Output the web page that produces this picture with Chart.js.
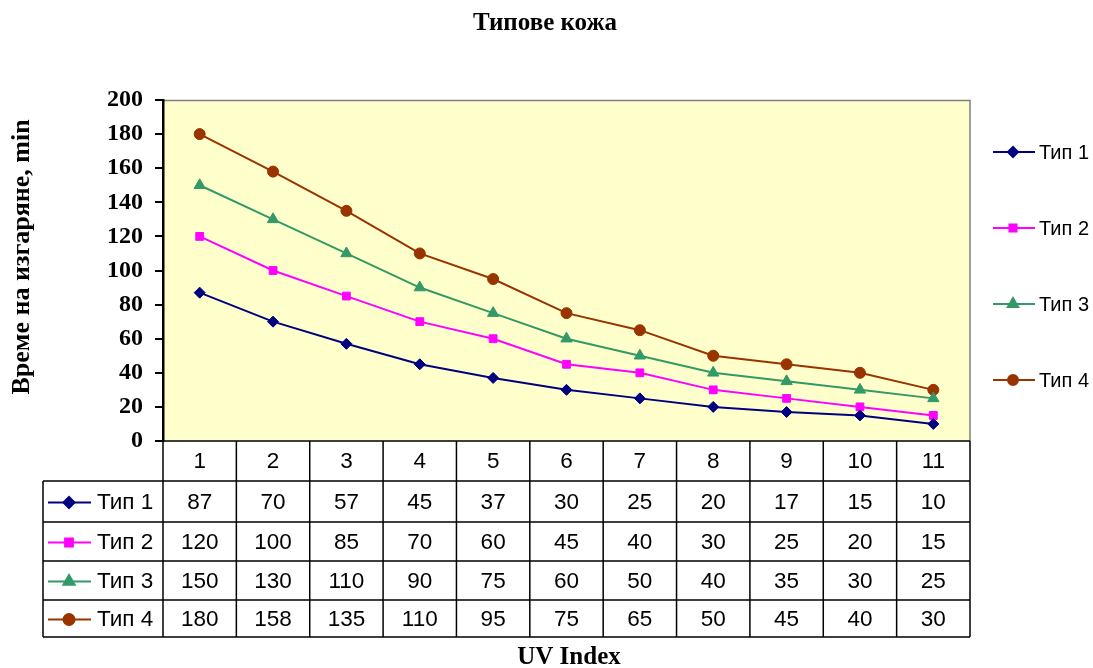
<!DOCTYPE html>
<html><head><meta charset="utf-8">
<script src="https://cdn.jsdelivr.net/npm/chart.js@4/dist/chart.umd.min.js"></script>
<style>html,body{margin:0;padding:0;background:#fff}#wrap{width:1093px;height:668px}</style>
</head><body><div id="wrap"><canvas id="c" width="1093" height="668"></canvas></div>
<script>
const categories = ['1','2','3','4','5','6','7','8','9','10','11'];
const seriesNames = ['Тип 1','Тип 2','Тип 3','Тип 4'];
const tip1 = [87,70,57,45,37,30,25,20,17,15,10];
const tip2 = [120,100,85,70,60,45,40,30,25,20,15];
const tip3 = [150,130,110,90,75,60,50,40,35,30,25];
const tip4 = [180,158,135,110,95,75,65,50,45,40,30];
const yTicks = [0,20,40,60,80,100,120,140,160,180,200];
const titleText = 'Типове кожа';
const yTitle = 'Време на изгаряне, min';
const xTitle = 'UV Index';

const colors = ['#000080','#FF00FF','#339966','#993300'];
const styles = ['rectRot','rect','triangle','circle'];
const radii = [5.5,5.5,6.5,5.5];
const allData = [tip1,tip2,tip3,tip4];

const rowLines = [441,481,522,561,600,637];

function drawMarker(ctx, style, x, y, r){
  Chart.helpers.drawPoint(ctx, {pointStyle: style, radius: r, rotation: 0, borderWidth: 1}, x, y);
}

const custom = {
  id:'custom',
  beforeDraw(chart){
    const {ctx, chartArea:a} = chart;
    ctx.save();
    ctx.fillStyle='#FFFFCC';
    ctx.fillRect(a.left,a.top,a.right-a.left,a.bottom-a.top);
    ctx.strokeStyle='#808080'; ctx.lineWidth=1.5;
    ctx.beginPath(); ctx.moveTo(a.left,a.top+0.5); ctx.lineTo(a.right,a.top+0.5); ctx.lineTo(a.right,a.bottom); ctx.stroke();
    ctx.restore();
  },
  afterDraw(chart){
    const {ctx, chartArea:a} = chart;
    const xs = chart.scales.x;
    const n = categories.length;
    const colW = (a.right-a.left)/n;
    ctx.save();
    ctx.fillStyle='#000';
    ctx.textAlign='center'; ctx.textBaseline='middle';
    ctx.font='bold 25px "Liberation Serif"';
    ctx.fillText(titleText, 545, 24);
    ctx.font='bold 25px "Liberation Serif"';
    ctx.fillText(xTitle, 569, 658);
    ctx.save(); ctx.translate(22, 257); ctx.rotate(-Math.PI/2);
    ctx.font='bold 26px "Liberation Serif"';
    ctx.fillText(yTitle, 0, 0); ctx.restore();
    // table grid
    ctx.strokeStyle='#000'; ctx.lineWidth=1.5;
    ctx.beginPath();
    ctx.moveTo(a.left, rowLines[0]); ctx.lineTo(a.right, rowLines[0]);
    for(let i=1;i<rowLines.length;i++){ ctx.moveTo(43, rowLines[i]); ctx.lineTo(a.right, rowLines[i]); }
    for(let k=0;k<=n;k++){ const x=a.left+k*colW; ctx.moveTo(x, rowLines[0]); ctx.lineTo(x, rowLines[5]); }
    ctx.moveTo(43, rowLines[1]); ctx.lineTo(43, rowLines[5]);
    ctx.stroke();
    ctx.font='22.5px "Liberation Sans"';
    ctx.textAlign='center'; ctx.textBaseline='middle';
    categories.forEach((c,i)=>{ ctx.fillText(c, xs.getPixelForValue(i), (rowLines[0]+rowLines[1])/2+1); });
    allData.forEach((arr,s)=>{
      const yc=(rowLines[s+1]+rowLines[s+2])/2+1;
      ctx.fillStyle='#000'; ctx.textAlign='center';
      arr.forEach((v,i)=>{ ctx.fillText(String(v), xs.getPixelForValue(i), yc); });
      ctx.strokeStyle=colors[s]; ctx.lineWidth=2;
      ctx.beginPath(); ctx.moveTo(48,yc); ctx.lineTo(91,yc); ctx.stroke();
      ctx.fillStyle=colors[s]; ctx.strokeStyle=colors[s];
      drawMarker(ctx, styles[s], 69, yc, radii[s]);
      ctx.fillStyle='#000'; ctx.textAlign='left';
      ctx.fillText(seriesNames[s], 97, yc);
    });
    const ly=[152,228,304,380];
    ctx.font='20px "Liberation Sans"';
    seriesNames.forEach((nm,s)=>{
      ctx.strokeStyle=colors[s]; ctx.lineWidth=2;
      ctx.beginPath(); ctx.moveTo(993,ly[s]); ctx.lineTo(1035,ly[s]); ctx.stroke();
      ctx.fillStyle=colors[s];
      drawMarker(ctx, styles[s], 1013, ly[s], radii[s]-0.5);
      ctx.fillStyle='#000'; ctx.textAlign='left'; ctx.textBaseline='middle';
      ctx.fillText(nm, 1039, ly[s]+1);
    });
    ctx.restore();
  }
};

new Chart(document.getElementById('c'), {
  type:'line',
  data:{
    labels:categories,
    datasets: allData.map((d,s)=>({
      label:seriesNames[s], data:d,
      borderColor:colors[s], backgroundColor:colors[s],
      borderWidth:2, pointStyle:styles[s], pointRadius:radii[s],
      pointBorderWidth:1, pointBorderColor:colors[s], pointBackgroundColor:colors[s],
      tension:0, fill:false
    }))
  },
  options:{
    responsive:false, animation:false,
    layout:{padding:{top:100,right:123,left:0,bottom:0}},
    plugins:{legend:{display:false}, title:{display:false}, tooltip:{enabled:false}},
    scales:{
      x:{type:'category', offset:true,
        grid:{display:false, drawTicks:false}, border:{display:false},
        ticks:{display:false},
        afterFit(s){ s.height = 668-441; }
      },
      y:{min:0,max:200,
        afterBuildTicks(s){ s.ticks = yTicks.map(v=>({value:v})); },
        grid:{drawOnChartArea:false, drawTicks:true, tickLength:8, color:'#000', lineWidth:2},
        border:{display:true, color:'#000', width:2.5},
        ticks:{color:'#000', padding:12, font:{family:'Liberation Serif', size:24, weight:'bold'}},
        afterFit(s){ s.width = 163; }
      }
    }
  },
  plugins:[custom]
});
</script></body></html>
